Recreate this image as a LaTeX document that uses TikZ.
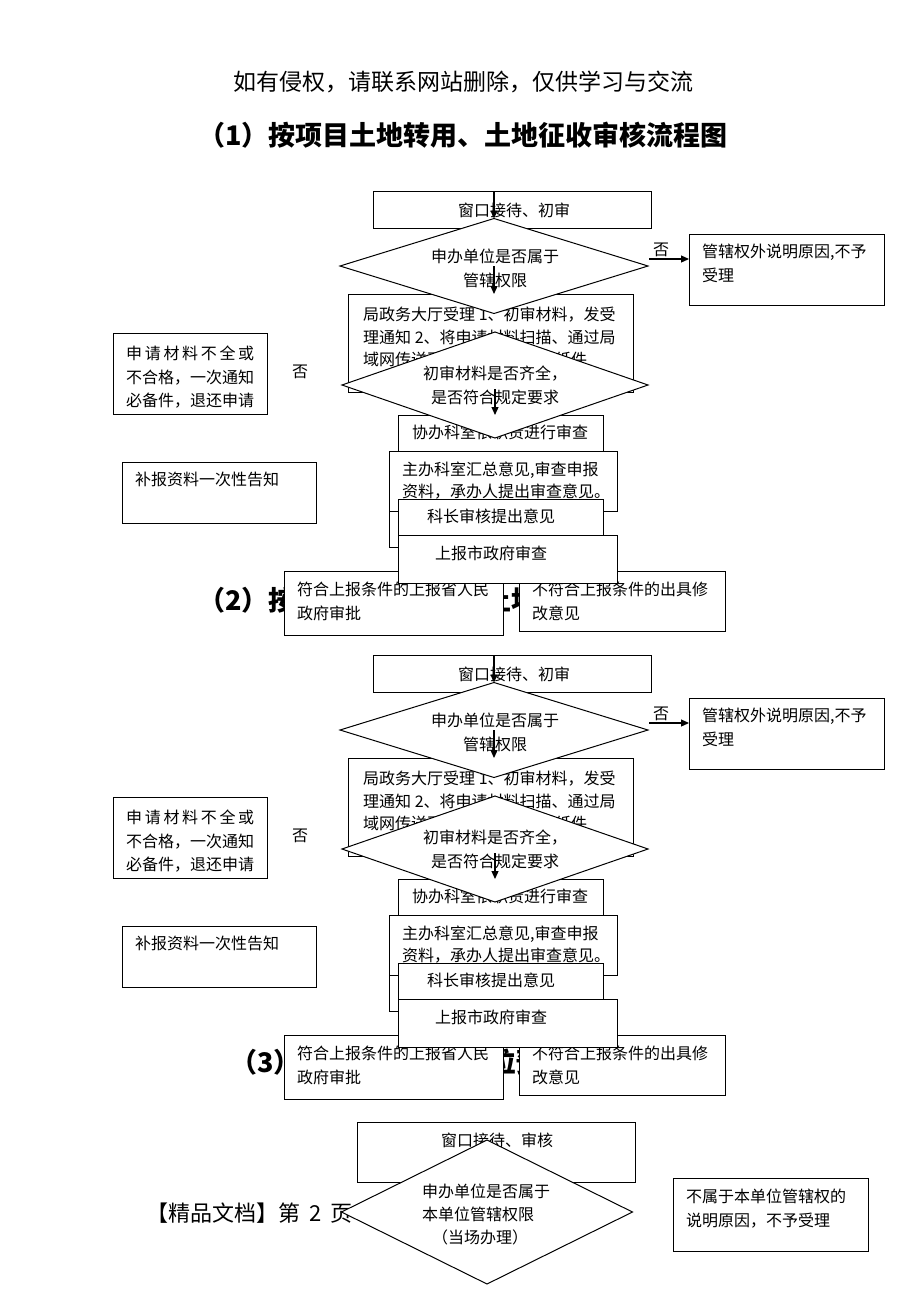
\documentclass[tikz,border=0pt]{standalone}
\usepackage{fontspec}
\setmainfont{Noto Sans CJK SC}
\usetikzlibrary{shapes.geometric,arrows.meta}
\tikzset{
  box/.style={draw, fill=white, line width=1pt, inner sep=0pt, outer sep=0pt, anchor=north west},
  dia/.style={diamond, draw, fill=white, line width=1pt, inner sep=0pt, outer sep=0pt},
  tl/.style={anchor=north west, inner sep=0pt, align=left, font=\fontsize{16}{24}\selectfont},
  tc/.style={anchor=center, inner sep=0pt, align=center, font=\fontsize{16}{24}\selectfont},
  arr/.style={-{Triangle[length=8pt,width=7pt]}, line width=1.2pt},
  ttl/.style={inner sep=0pt, font=\fontsize{27}{27}\selectfont\bfseries}
}
\newcommand\flowblock[2]{%
\begin{scope}[shift={(0,#1)}]
  \node[box, minimum width=278pt, minimum height=37pt] (#2win) at (373,191) {};
  \node[tc] (#2wint) at (514,210) {窗口接待、初审};
  \node[box, minimum width=285pt, minimum height=98pt] (#2hall) at (348,294) {};
  \node[tl, font=\fontsize{16}{22.5}\selectfont] (#2hallt) at (363,307) {局政务大厅受理 1、初审材料，发受\\理通知 2、将申请材料扫描、通过局\\域网传送至主办科室，移交纸件};
  \node[dia, minimum width=308pt, minimum height=95pt] (#2d1) at (494,266) {};
  \node[tc] (#2d1t) at (495,268.5) {申办单位是否属于\\管辖权限};
  \node[box, minimum width=154pt, minimum height=81pt] (#2lb) at (113,333) {};
  \node[tl, font=\fontsize{16}{23.5}\selectfont] (#2lbt) at (126,346) {\makebox[128pt]{申\hfill 请\hfill 材\hfill 料\hfill 不\hfill 全\hfill 或}\\不合格，一次通知\\必备件，退还申请};
  \node[box, minimum width=194pt, minimum height=61pt] (#2bb) at (122,462) {};
  \node[tl] (#2bbt) at (135,472) {补报资料一次性告知};
  \node[box, minimum width=195pt, minimum height=71pt] (#2rb) at (689,234) {};
  \node[tl] (#2rbt) at (702,244) {管辖权外说明原因,不予\\受理};
  \node[box, minimum width=205pt, minimum height=36pt] (#2xb) at (398,415) {};
  \node[tl] (#2xbt) at (412,425) {协办科室依职责进行审查};
  \node[dia, minimum width=306pt, minimum height=106pt] (#2d2) at (495,385) {};
  \node[tc] (#2d2t) at (495,385) {初审材料是否齐全，\\是否符合规定要求};
  \node[box, minimum width=228pt, minimum height=60pt] (#2zb) at (389,451) {};
  \node[tl, font=\fontsize{16}{22}\selectfont] (#2zbt) at (402,462) {主办科室汇总意见,审查申报\\资料，承办人提出审查意见。};
  \node[box, minimum width=211pt, minimum height=36pt] (#2hb) at (389,511) {};
  \node[box, minimum width=205pt, minimum height=36pt] (#2kb) at (398,499) {};
  \node[tl] (#2kbt) at (427,509) {科长审核提出意见};
  \node[box, minimum width=219pt, minimum height=64pt] (#2fb) at (284,571) {};
  \node[tl] (#2fbt) at (297,582) {符合上报条件的上报省人民\\政府审批};
  \node[box, minimum width=206pt, minimum height=60pt] (#2nb) at (519,571) {};
  \node[tl] (#2nbt) at (532,582) {不符合上报条件的出具修\\改意见};
  \node[box, minimum width=219pt, minimum height=48pt] (#2sb) at (398,535) {};
  \node[tl] (#2sbt) at (435,546) {上报市政府审查};
  \node[tc] (#2noL) at (300,372) {否};
  \node[tc] (#2noR) at (661,250) {否};
  \draw[arr] (#2d1.north |- #2win.north) -- (#2d1.north);
  \draw[arr] (#2d1.center) -- (#2d1.center |- #2hall.north);
  \draw[arr] ([yshift=-4pt]#2d2.center) -- (#2d2.center |- #2xb.north);
  \coordinate (#2ra) at ([xshift=1pt,yshift=7pt]#2d1.east);
  \draw[arr] (#2ra) -- (#2ra -| #2rb.west);
\end{scope}}
\begin{document}
\begin{tikzpicture}[x=1pt,y=-1pt]
  \useasboundingbox (0,0) rectangle (920,1302);
  \fill[white] (0,0) rectangle (920,1302);
  \node[inner sep=0pt, font=\fontsize{23}{23}\selectfont] (hdr) at (463,82) {如有侵权，请联系网站删除，仅供学习与交流};
  \node[ttl] (t1) at (463,135) {（1）按项目土地转用、土地征收审核流程图};
  \node[ttl] (t2) at (463,600) {（2）按批次土地转用、土地征收审核流程图};
  \node[ttl, anchor=west] (t3) at (230,1062) {（3）建设项目用地单位预审流程图};
  \flowblock{0}{a}
  \flowblock{464}{b}
  % section 3
  \node[box, minimum width=278pt, minimum height=60pt] (cwin) at (357,1122) {};
  \node[tc] (cwint) at (497,1140) {窗口接待、审核};
  \node[anchor=west, inner sep=0pt, font=\fontsize{22}{22}\selectfont] (foot) at (146,1213) {【精品文档】第\hspace{9pt}2\hspace{9pt}页};
  \node[dia, minimum width=291pt, minimum height=144pt] (cd) at (487,1212) {};
  \node[tl, font=\fontsize{16}{23}\selectfont] (cdt) at (422,1184) {申办单位是否属于\\本单位管辖权限\\\hspace*{10pt}（当场办理）};
  \node[box, minimum width=195pt, minimum height=73pt] (crb) at (673,1178) {};
  \node[tl] (crbt) at (686,1189) {不属于本单位管辖权的\\说明原因，不予受理};
\end{tikzpicture}
\end{document}
